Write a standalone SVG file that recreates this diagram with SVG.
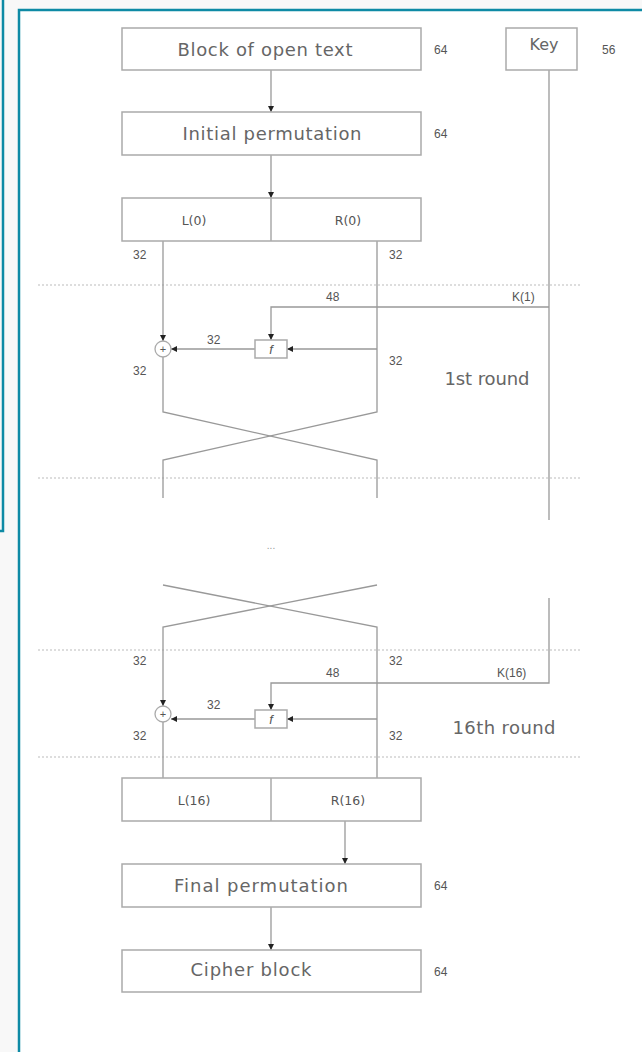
<svg xmlns="http://www.w3.org/2000/svg" width="642" height="1052" viewBox="0 0 642 1052">
<style>
.box{fill:#fff;stroke:#aaa;stroke-width:1.5}
.lbl{font-family:"DejaVu Sans","Open Sans",sans-serif;font-size:18px;fill:#666;text-anchor:middle}
.sm{font-family:"DejaVu Sans","Open Sans",sans-serif;font-size:12.5px;fill:#555;text-anchor:middle}
.num{font-family:"Liberation Sans",Arial,sans-serif;font-size:12px;fill:#555}
.ln{fill:none;stroke:#999;stroke-width:1.3}
.dot{fill:none;stroke:#bbb;stroke-width:1.2;stroke-dasharray:2 2}
.frame{fill:none;stroke:#0e8aa5;stroke-width:2.5}
</style>
<defs>
<marker id="ah" viewBox="0 0 10 10" refX="10" refY="5" markerWidth="6" markerHeight="6" orient="auto" markerUnits="userSpaceOnUse"><path d="M0,0 L10,5 L0,10 z" fill="#222"/></marker>
</defs>
<rect x="0" y="0" width="642" height="1052" fill="#f8f8f8"/>
<path class="frame" d="M3,0 V531 H0"/>
<rect x="19" y="10" width="640" height="1060" fill="#fff"/>
<path class="frame" d="M19,1052 V10 H642"/>

<g id="dividers">
<line class="dot" x1="38" y1="285" x2="582" y2="285"/>
<line class="dot" x1="38" y1="478" x2="582" y2="478"/>
<line class="dot" x1="38" y1="650" x2="582" y2="650"/>
<line class="dot" x1="38" y1="757" x2="582" y2="757"/>
</g>

<g id="connectors">
<line class="ln" x1="271" y1="70" x2="271" y2="112" marker-end="url(#ah)"/>
<line class="ln" x1="271" y1="155" x2="271" y2="198" marker-end="url(#ah)"/>
<line class="ln" x1="549" y1="70" x2="549" y2="520"/>
<line class="ln" x1="163" y1="241" x2="163" y2="341" marker-end="url(#ah)"/>
<path class="ln" d="M377,241 V412 L163,460 V498"/>
<path class="ln" d="M163,357 V412 L377,460 V498"/>
<path class="ln" d="M549,307 H271 V340" marker-end="url(#ah)"/>
<line class="ln" x1="377" y1="349" x2="287" y2="349" marker-end="url(#ah)"/>
<line class="ln" x1="255" y1="349" x2="171" y2="349" marker-end="url(#ah)"/>

<path class="ln" d="M163,585 L377,627 V778"/>
<path class="ln" d="M377,585 L163,627 V706" marker-end="url(#ah)"/>
<path class="ln" d="M549,598 V683 H271 V710" marker-end="url(#ah)"/>
<line class="ln" x1="377" y1="719" x2="287" y2="719" marker-end="url(#ah)"/>
<line class="ln" x1="255" y1="719" x2="171" y2="719" marker-end="url(#ah)"/>
<line class="ln" x1="163" y1="722" x2="163" y2="778"/>
<line class="ln" x1="345" y1="821" x2="345" y2="864" marker-end="url(#ah)"/>
<line class="ln" x1="271" y1="907" x2="271" y2="950" marker-end="url(#ah)"/>
</g>

<g id="block">
<rect class="box" x="122" y="28" width="299" height="42"/>
<text class="lbl" x="265" y="56" textLength="175" lengthAdjust="spacing">Block of open text</text>
<text class="num" x="434" y="54">64</text>
</g>
<g id="key">
<rect class="box" x="506" y="28" width="71" height="42"/>
<text class="lbl" x="544" y="50" style="font-size:16px">Key</text>
<text class="num" x="602" y="54">56</text>
</g>
<g id="initial">
<rect class="box" x="122" y="112" width="299" height="43"/>
<text class="lbl" x="272" y="140" textLength="179" lengthAdjust="spacing">Initial permutation</text>
<text class="num" x="434" y="138">64</text>
</g>
<g id="lr0">
<rect class="box" x="122" y="198" width="299" height="43"/>
<line class="box" x1="271" y1="198" x2="271" y2="241"/>
<text class="sm" x="194" y="225">L(0)</text>
<text class="sm" x="348" y="225">R(0)</text>
</g>
<g id="round1">
<text class="num" x="133" y="259">32</text>
<text class="num" x="389" y="259">32</text>
<text class="num" x="326" y="301">48</text>
<text class="num" x="512" y="301">K(1)</text>
<rect class="box" x="255" y="340" width="32" height="18"/>
<text class="num" x="271" y="354" text-anchor="middle" font-style="italic" style="font-size:13px">f</text>
<circle cx="163" cy="349" r="8" fill="#fff" stroke="#aaa" stroke-width="1.3"/>
<text class="num" x="163" y="353" text-anchor="middle" style="font-size:11px">+</text>
<text class="num" x="207" y="344">32</text>
<text class="num" x="133" y="375">32</text>
<text class="num" x="389" y="365">32</text>
<text class="lbl" x="487" y="385" textLength="85" lengthAdjust="spacing">1st round</text>
</g>
<text class="num" x="271" y="549" text-anchor="middle" style="fill:#999;font-size:10px">...</text>
<g id="round16">
<text class="num" x="133" y="665">32</text>
<text class="num" x="389" y="665">32</text>
<text class="num" x="326" y="677">48</text>
<text class="num" x="497" y="677">K(16)</text>
<rect class="box" x="255" y="710" width="32" height="18"/>
<text class="num" x="271" y="724" text-anchor="middle" font-style="italic" style="font-size:13px">f</text>
<circle cx="163" cy="714" r="8" fill="#fff" stroke="#aaa" stroke-width="1.3"/>
<text class="num" x="163" y="718" text-anchor="middle" style="font-size:11px">+</text>
<text class="num" x="207" y="709">32</text>
<text class="num" x="133" y="740">32</text>
<text class="num" x="389" y="740">32</text>
<text class="lbl" x="504" y="734" textLength="103" lengthAdjust="spacing">16th round</text>
</g>
<g id="lr16">
<rect class="box" x="122" y="778" width="299" height="43"/>
<line class="box" x1="271" y1="778" x2="271" y2="821"/>
<text class="sm" x="194" y="805">L(16)</text>
<text class="sm" x="348" y="805">R(16)</text>
</g>
<g id="final">
<rect class="box" x="122" y="864" width="299" height="43"/>
<text class="lbl" x="261" y="892" textLength="174" lengthAdjust="spacing">Final permutation</text>
<text class="num" x="434" y="890">64</text>
</g>
<g id="cipher">
<rect class="box" x="122" y="950" width="299" height="42"/>
<text class="lbl" x="251" y="976" textLength="121" lengthAdjust="spacing">Cipher block</text>
<text class="num" x="434" y="976">64</text>
</g>
</svg>
